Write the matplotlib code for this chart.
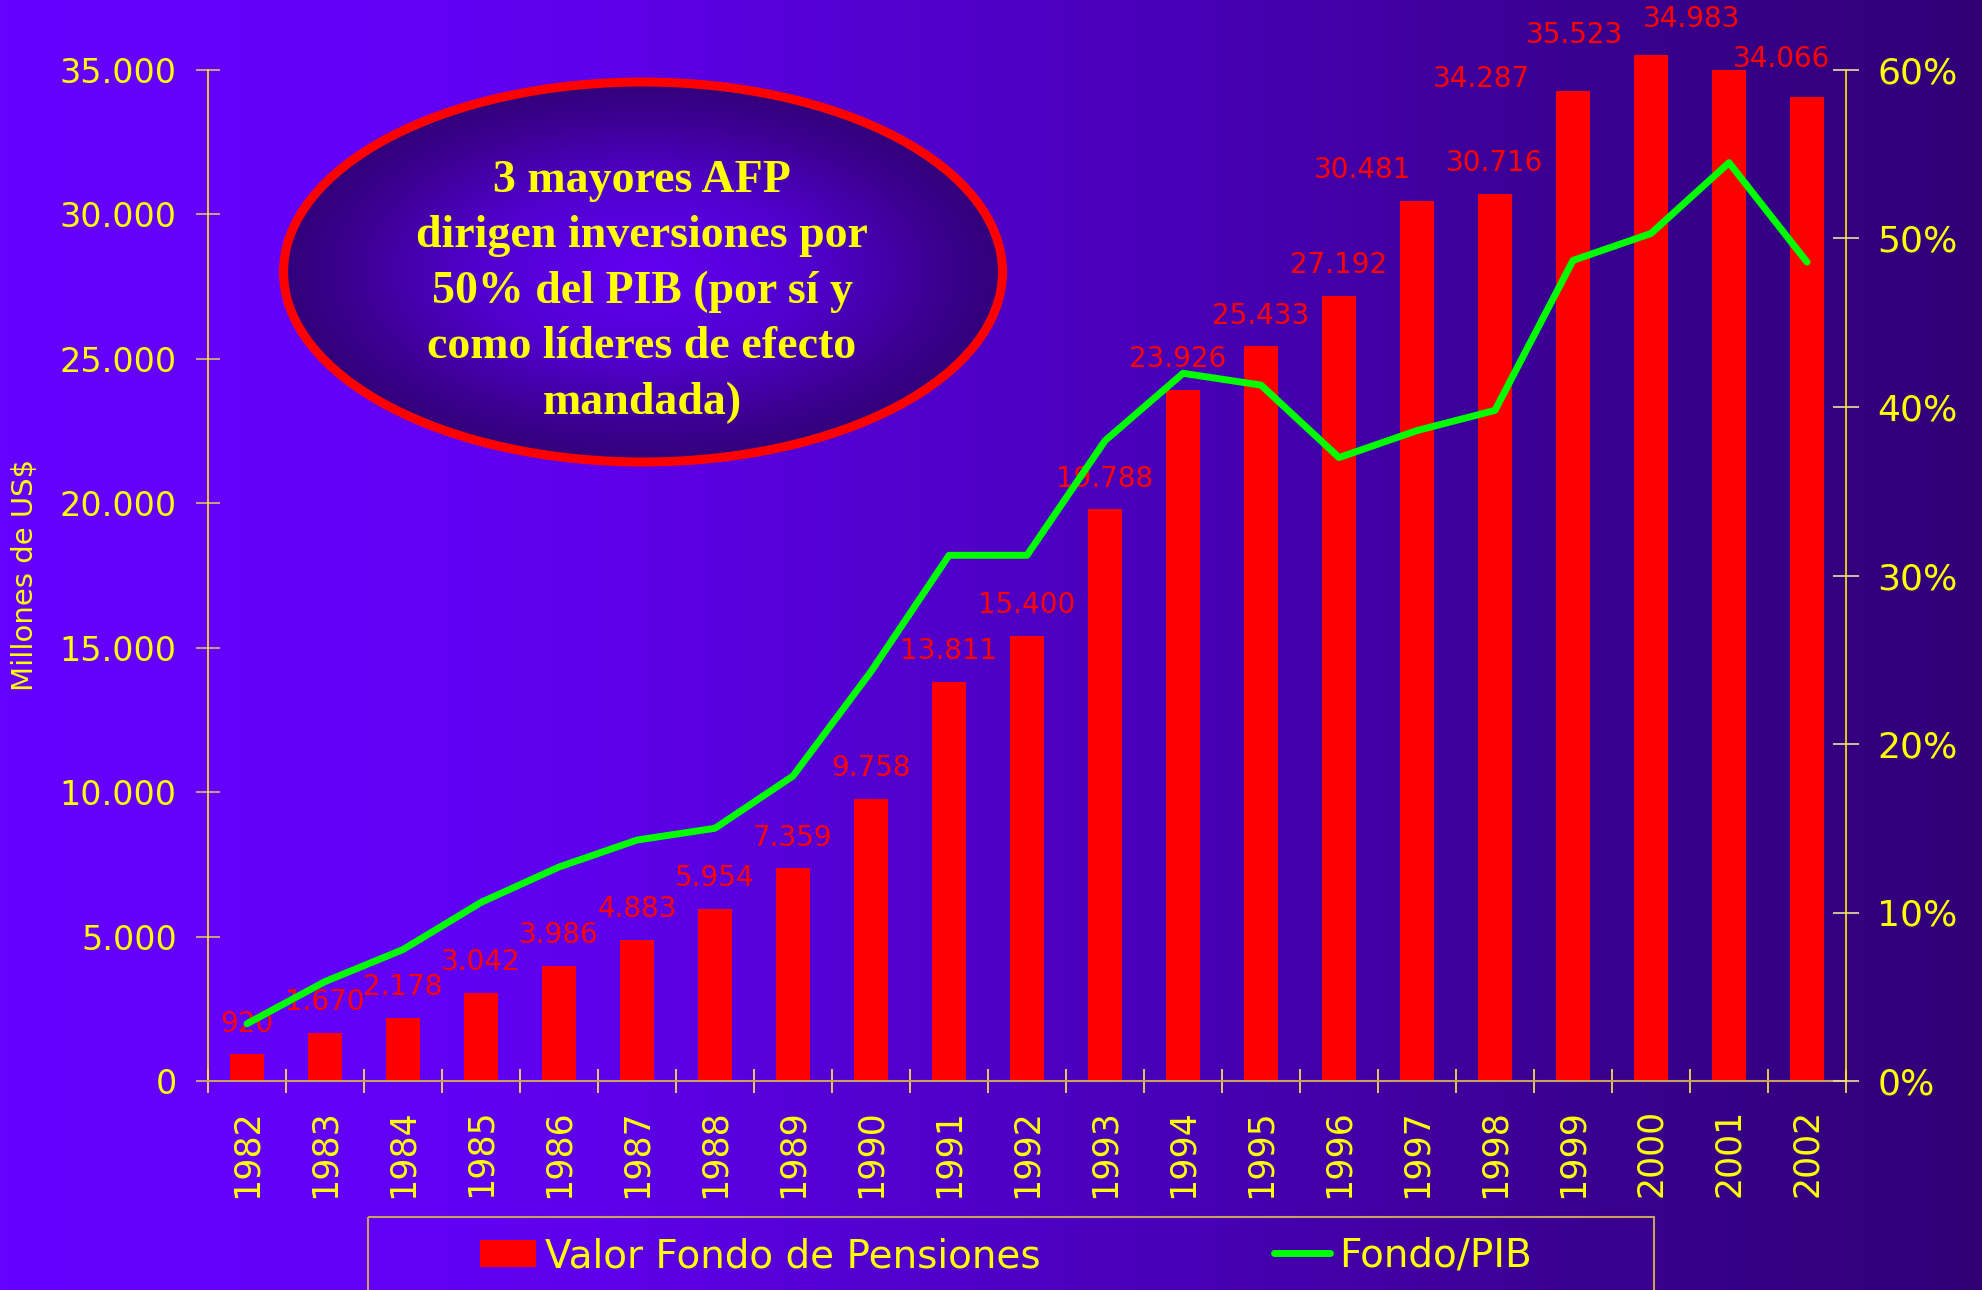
import numpy as np
import matplotlib
matplotlib.use('Agg')
import matplotlib.pyplot as plt
from matplotlib.colors import LinearSegmentedColormap
from matplotlib.patches import Ellipse, Rectangle, Patch
from matplotlib.lines import Line2D

# ---------------- data ----------------
years = ['1982', '1983', '1984', '1985', '1986', '1987', '1988', '1989', '1990',
         '1991', '1992', '1993', '1994', '1995', '1996', '1997', '1998', '1999',
         '2000', '2001', '2002']
fund_values = [920, 1670, 2178, 3042, 3986, 4883, 5954, 7359, 9758, 13811, 15400,
               19788, 23926, 25433, 27192, 30481, 30716, 34287, 35523, 34983, 34066]
fund_gdp_pct = [3.4, 5.9, 7.8, 10.6, 12.7, 14.3, 15.0, 18.1, 24.3, 31.2, 31.2,
                38.0, 42.0, 41.3, 37.0, 38.6, 39.8, 48.7, 50.3, 54.5, 48.6]
left_ticks = [0, 5000, 10000, 15000, 20000, 25000, 30000, 35000]
right_ticks = [0, 10, 20, 30, 40, 50, 60]
series_bar_label = 'Valor Fondo de Pensiones'
series_line_label = 'Fondo/PIB'
y_label = 'Millones de US$'
note_text = ('3 mayores AFP\ndirigen inversiones por\n50% del PIB (por sí y\n'
             'como líderes de efecto\nmandada)')

# ---------------- style: data-label nudges (points) ----------------
label_dx = [0, 0, 0, 0, 0, 0, 0, 0, 0, 0, 0, 0, -4, 0, 0, -39, 0, -66, -55, -27, -18]
label_dy = [0, 0, 0, 0, 0, 0, 0, 0, 0, 0, 0, 0, 0, 0, 0, 0, 0, -14, -8, 15, 5]


def thousands(v):
    return f'{v:,}'.replace(',', '.')


W, H = 1983, 1290
fig = plt.figure(figsize=(W / 100, H / 100), dpi=100)

# ---------------- background ----------------
bg = fig.add_axes([0, 0, 1, 1])
bg.axis('off')
grad = np.linspace(0, 1, 512).reshape(1, -1)
cmap_bg = LinearSegmentedColormap.from_list(
    'bg', [(0, '#6600FF'), (0.15, '#6400FA'), (0.3, '#5E00EC'), (0.45, '#5300CE'),
           (0.6, '#4800B6'), (0.8, '#3A0090'), (1, '#310077')])
bg.imshow(grad, cmap=cmap_bg, extent=[0, W, H, 0], aspect='auto', zorder=0)

# ellipse with radial gradient
cx, cy, ew, eh = 643, 272, 719, 380
yy, xx = np.mgrid[-1:1:300j, -1:1:300j]
r = np.clip(np.sqrt(xx ** 2 + yy ** 2), 0, 1)
cmap_el = LinearSegmentedColormap.from_list(
    'el', [(0, '#6200F4'), (0.45, '#5200D0'), (0.8, '#3D0094'), (1, '#32007A')])
im = bg.imshow(r, cmap=cmap_el, vmin=0, vmax=1,
               extent=[cx - ew / 2, cx + ew / 2, cy + eh / 2, cy - eh / 2],
               aspect='auto', zorder=1)
ell = Ellipse((cx, cy), ew, eh, facecolor='none', edgecolor='#FF0000',
              linewidth=6.5, zorder=2)
bg.add_patch(ell)
im.set_clip_path(ell)
bg.text(642, 292, note_text, ha='center', va='center', family='Liberation Serif',
        weight='bold', fontsize=33, color='#FFFF00', linespacing=1.42, zorder=3)

# legend box
bg.add_patch(Rectangle((368, 1217), 1286, 200, fill=False, edgecolor='#C8A060',
                       linewidth=1.5, zorder=2))
bg.set_xlim(0, W)
bg.set_ylim(H, 0)

# ---------------- main chart ----------------
ax = fig.add_axes([208 / W, 1 - 1081 / H, (1846 - 208) / W, (1081 - 70) / H])
ax.patch.set_alpha(0)
x = np.arange(len(years))
ax.bar(x, fund_values, width=0.44, color='#FF0000', clip_on=False, zorder=2)
ax.set_xlim(-0.5, len(years) - 0.5)
ax.set_ylim(0, 35000)
ax.set_yticks(left_ticks)
ax.set_yticklabels([thousands(v) for v in left_ticks])
ax.tick_params(axis='y', direction='inout', length=17, width=1.2, color='#D8C070',
               labelcolor='#FFFF00', labelsize=24, pad=14)
ax.set_xticks(x)
ax.set_xticklabels(years, rotation=90)
ax.tick_params(axis='x', which='major', length=0, pad=20, labelsize=25,
               labelcolor='#FFFF00')
ax.set_xticks(np.arange(-0.5, len(years), 1), minor=True)
ax.tick_params(axis='x', which='minor', direction='inout', length=17, width=1.2,
               color='#FFEE44')
for s in ['top', 'right']:
    ax.spines[s].set_visible(False)
ax.spines['left'].set_color('#FFEE00')
ax.spines['left'].set_linewidth(1.2)
ax.spines['bottom'].set_color('#C8A060')
ax.spines['bottom'].set_linewidth(1.5)

for xi, v, dx, dy in zip(x, fund_values, label_dx, label_dy):
    ax.annotate(thousands(v), (xi, v), xytext=(dx, 12 + dy), textcoords='offset points',
                ha='center', va='bottom', color='#FF0000', fontsize=20,
                annotation_clip=False, zorder=4)

ax2 = ax.twinx()
ax2.patch.set_alpha(0)
ax2.plot(x, fund_gdp_pct, color='#00FF00', lw=5, solid_capstyle='round',
         solid_joinstyle='round', zorder=3)
ax2.set_ylim(0, 60)
ax2.set_yticks(right_ticks)
ax2.set_yticklabels([f'{v}%' for v in right_ticks])
ax2.tick_params(axis='y', direction='inout', length=19, width=1.2, color='#E8E0A0',
                labelcolor='#FFFF00', labelsize=26, pad=13)
for s in ['top', 'left', 'bottom']:
    ax2.spines[s].set_visible(False)
ax2.spines['right'].set_color('#FFEE00')
ax2.spines['right'].set_linewidth(1.2)

fig.text(25 / W, 1 - 575 / H, y_label, rotation=90, ha='center', va='center',
         color='#FFFF00', fontsize=21)

handles = [Patch(facecolor='#FF0000', edgecolor='none'),
           Line2D([], [], color='#00FF00', lw=5, solid_capstyle='round')]
fig.legend(handles, [series_bar_label, series_line_label], loc='center left',
           bbox_to_anchor=(480 / W, 1 - 1256 / H), ncol=2, frameon=False,
           fontsize=28, labelcolor='#FFFF00', handlelength=1.45, handleheight=0.7,
           handletextpad=0.22, columnspacing=6.0, borderpad=0, borderaxespad=0)

fig.savefig('out.png', dpi=100)
